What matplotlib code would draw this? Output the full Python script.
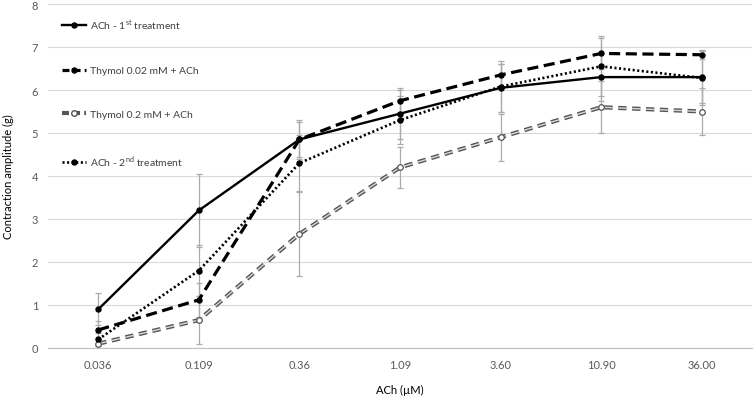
import matplotlib
matplotlib.use("Agg")
import matplotlib.pyplot as plt
from matplotlib.lines import Line2D

plt.rcParams['font.family'] = ['Lato', 'DejaVu Sans']
plt.rcParams['lines.scale_dashes'] = False

categories = ["0.036", "0.109", "0.36", "1.09", "3.60", "10.90", "36.00"]
ach1 = [0.90, 3.20, 4.85, 5.45, 6.05, 6.30, 6.30]
ach1_err = [0.37, 0.85, 0.45, 0.60, 0.55, 0.55, 0.60]
thy002 = [0.42, 1.12, 4.85, 5.75, 6.35, 6.85, 6.82]
thy002_err = [0.20, 0.40, 0.40, 0.25, 0.25, 0.35, 0.10]
thy02 = [0.10, 0.65, 2.65, 4.20, 4.90, 5.60, 5.50]
thy02_err = [0.12, 0.55, 0.98, 0.47, 0.55, 0.60, 0.55]
ach2 = [0.20, 1.80, 4.30, 5.30, 6.08, 6.55, 6.28]
ach2_err = [0.15, 0.60, 0.65, 0.55, 0.60, 0.70, 0.63]

labels = ["ACh - 1$^{\\mathregular{st}}$ treatment", "Thymol 0.02 mM + ACh",
          "Thymol 0.2 mM + ACh", "ACh - 2$^{\\mathregular{nd}}$ treatment"]

fig = plt.figure(figsize=(7.54, 4.02), dpi=100)
ax = fig.add_axes([48/754, 53/402, 704/754, 344/402])
x = list(range(len(categories)))

ecol = '#ababab'
for y, e in [(ach1, ach1_err), (thy002, thy002_err), (thy02, thy02_err), (ach2, ach2_err)]:
    ax.errorbar(x, y, yerr=e, fmt='none', ecolor=ecol, elinewidth=0.9, capsize=2.5, capthick=0.9, zorder=2)

ms = 3.6
# ACh 1st
ax.plot(x, ach1, color='black', lw=1.7, marker='o', ms=ms, mfc='black', mec='black', zorder=5)
# Thymol 0.02
ax.plot(x, thy002, color='black', lw=2.3, dashes=(8, 4), marker='o', ms=ms, mfc='black', mec='black', zorder=4)
# Thymol 0.2 (double line effect)
ax.plot(x, thy02, color='#555555', lw=3.0, dashes=(6, 4), dash_capstyle='butt', zorder=3)
ax.plot(x, thy02, color='#d9d9d9', lw=1.0, dashes=(6, 4), dash_capstyle='butt', zorder=3.1)
ax.plot(x, thy02, ls='none', marker='o', ms=ms + 0.4, mfc='white', mec='#555555', mew=0.9, zorder=3.2)
# ACh 2nd
ax.plot(x, ach2, color='black', lw=1.9, dashes=(1.5, 1.8), marker='o', ms=ms, mfc='black', mec='black', zorder=4.5)

ax.set_xlim(-0.5, len(categories) - 0.5)
ax.set_ylim(0, 8)
ax.set_xticks(x)
ax.set_xticklabels(categories)
ax.set_yticks(range(0, 9))
ax.tick_params(axis='both', length=0, labelsize=8, colors='#595959')
ax.tick_params(axis='y', pad=7)
ax.tick_params(axis='x', pad=8)
ax.grid(axis='y', color='#d9d9d9', lw=0.8)
ax.set_axisbelow(True)
for s in ['top', 'right', 'left']:
    ax.spines[s].set_visible(False)
ax.spines['bottom'].set_color('#bfbfbf')
ax.spines['bottom'].set_linewidth(0.8)

ax.set_xlabel("ACh (µM)", fontsize=8, color='#000000')
ax.xaxis.set_label_coords((400 - 48) / 704, -(390 - 349) / 344)
ax.xaxis.label.set_va('center')
ax.set_ylabel("Contraction amplitude (g)", fontsize=8, color='#000000')
ax.yaxis.set_label_coords(-(48 - 8) / 704, 0.5)
ax.yaxis.label.set_va('center')

# legend
h1 = Line2D([], [], color='black', lw=1.7, marker='o', ms=ms)
h2 = Line2D([], [], color='black', lw=2.3, dashes=(5, 3), marker='o', ms=ms)
h3 = Line2D([], [], color='#555555', lw=3.0, dashes=(5, 3), marker='o', ms=ms + 0.4, mfc='white', mec='#555555')
h4 = Line2D([], [], color='black', lw=1.9, dashes=(1.5, 1.8), marker='o', ms=ms)
leg = ax.legend([h1, h2, h3, h4], labels, loc='upper left', bbox_to_anchor=(4 / 704, 1 - 3 / 344),
                frameon=False, fontsize=7.5, labelspacing=3.3, handlelength=2.3,
                handletextpad=0.35, borderaxespad=0.6, borderpad=0.4)
for t in leg.get_texts():
    t.set_color('#404040')

fig.savefig("out.png", dpi=100)
